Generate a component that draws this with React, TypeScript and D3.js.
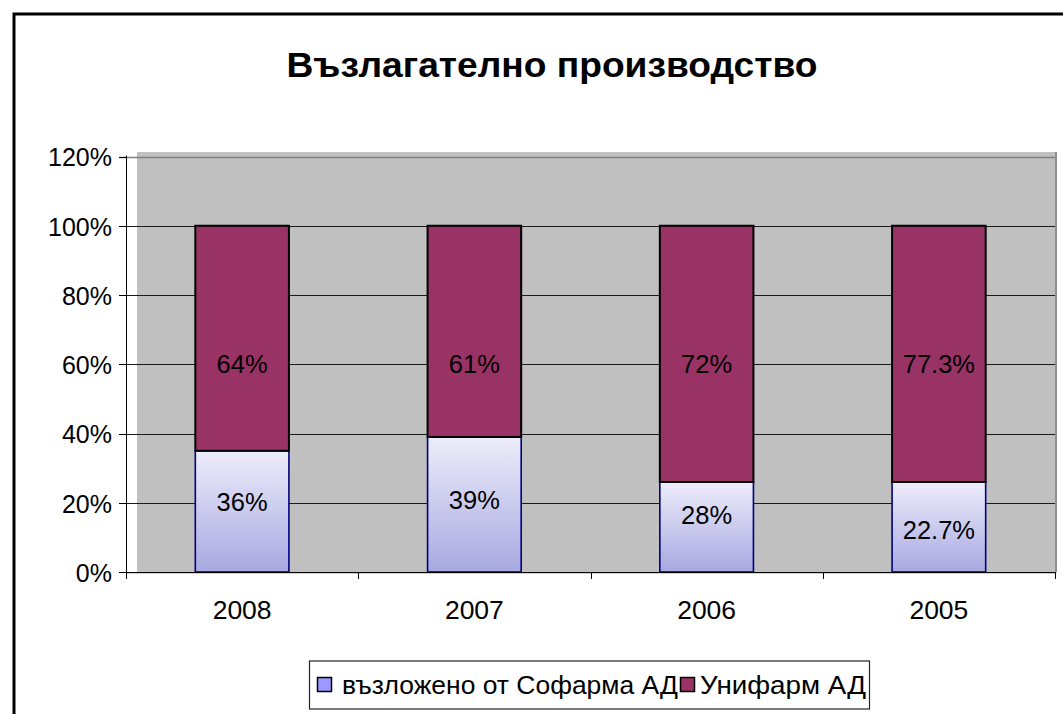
import React from 'react';
import * as d3 from 'd3';

const categories = ['2008', '2007', '2006', '2005'];
const sofarmaValues = [35, 39, 26, 26];
const unifarmValues = [65, 61, 74, 74];
const sofarmaLabels = ['36%', '39%', '28%', '22.7%'];
const unifarmLabels = ['64%', '61%', '72%', '77.3%'];
const sofarmaLabelAt = [20.3, 20.9, 16.5, 12.2];
const unifarmLabelAt = [60, 60, 60, 60];
const yTicks = [0, 20, 40, 60, 80, 100, 120];
const seriesNames = ['възложено от Софарма АД', 'Унифарм АД'];
const chartTitle = 'Възлагателно производство';

const W = 1063;
const H = 714;
const FONT = '"Liberation Sans", Arial, sans-serif';

export default function App() {
  const left = 126;
  const right = 1055;
  const top = 156.5;
  const bottom = 572;
  const x = d3.scaleBand<string>().domain(categories).range([left, right]).padding(0);
  const y = d3.scaleLinear().domain([0, 120]).range([bottom, top]);
  const bw = x.bandwidth() * 0.403;
  const stackData = categories.map((c, i) => ({ cat: c, a: sofarmaValues[i], b: unifarmValues[i] }));
  const stack = d3.stack<any>().keys(['a', 'b'])(stackData as any);
  const cx = (c: string) => (x(c) as number) + x.bandwidth() / 2;
  const tickXs = categories.map((c) => x(c) as number).concat([right]);

  return (
    <svg width={W} height={H} style={{ position: 'absolute', left: 0, top: 0, background: '#fff' }} fontFamily={FONT}>
      <defs>
        <linearGradient id="lowGrad" x1="0" y1="0" x2="0" y2="1">
          <stop offset="0%" stopColor="#EDEDFB" />
          <stop offset="100%" stopColor="#A8A8E2" />
        </linearGradient>
      </defs>
      <rect x={0} y={0} width={W} height={H} fill="#fff" />
      {/* outer border */}
      <rect x={14} y={14} width={1200} height={900} fill="none" stroke="#000" strokeWidth={3} />
      {/* title */}
      <text x={552} y={77} textAnchor="middle" fontSize={35} fontWeight="bold" fill="#000"
        textLength={531} lengthAdjust="spacingAndGlyphs">{chartTitle}</text>
      {/* plot area fill */}
      <rect x={137} y={152} width={right - 137 + 1} height={bottom - 152} fill="#C0C0C0" />
      <line x1={right + 1} x2={right + 1} y1={152} y2={bottom} stroke="#909090" strokeWidth={2} />
      <line x1={left} x2={right + 2} y1={bottom + 1.5} y2={bottom + 1.5} stroke="#d0d0d0" strokeWidth={1} />
      {/* gridlines */}
      {yTicks.filter((t) => t > 0).map((t) => (
        <line key={'g' + t} x1={left - 7} x2={right} y1={Math.round(y(t)) + 0.5} y2={Math.round(y(t)) + 0.5}
          stroke={t === 120 ? '#808080' : '#1a1a1a'} strokeWidth={t === 120 ? 1.5 : 1} />
      ))}
      {/* bars */}
      {stack[0].map((d: any, i: number) => (
        <rect key={'a' + i} x={cx(categories[i]) - bw / 2} y={y(d[1])} width={bw} height={y(d[0]) - y(d[1])}
          fill="url(#lowGrad)" stroke="#000080" strokeWidth={1.6} />
      ))}
      {stack[1].map((d: any, i: number) => (
        <rect key={'b' + i} x={cx(categories[i]) - bw / 2} y={y(d[1])} width={bw} height={y(d[0]) - y(d[1])}
          fill="#993366" stroke="#000" strokeWidth={2} />
      ))}
      {/* data labels */}
      {categories.map((c, i) => (
        <g key={'l' + i} fontSize={25.5} fill="#000" textAnchor="middle">
          <text x={cx(c)} y={y(unifarmLabelAt[i])} dy="0.35em">{unifarmLabels[i]}</text>
          <text x={cx(c)} y={y(sofarmaLabelAt[i])} dy="0.35em">{sofarmaLabels[i]}</text>
        </g>
      ))}
      {/* axes */}
      <line x1={left + 0.5} x2={left + 0.5} y1={top - 1} y2={bottom + 7} stroke="#000" strokeWidth={1} />
      <line x1={left} x2={right + 1} y1={bottom + 0.5} y2={bottom + 0.5} stroke="#000" strokeWidth={1} />
      {yTicks.map((t) => (
        <g key={'yt' + t}>
          <line x1={left - 7} x2={left} y1={Math.round(y(t)) + 0.5} y2={Math.round(y(t)) + 0.5} stroke="#000" strokeWidth={1} />
          <text x={112} y={y(t) + 1} dy="0.35em" textAnchor="end" fontSize={25} fill="#000">{t + '%'}</text>
        </g>
      ))}
      {tickXs.map((tx, i) => (
        <line key={'xt' + i} x1={Math.round(tx) + 0.5} x2={Math.round(tx) + 0.5} y1={bottom} y2={bottom + 7} stroke="#000" strokeWidth={1} />
      ))}
      {categories.map((c) => (
        <text key={'xl' + c} x={cx(c)} y={619} textAnchor="middle" fontSize={26.5} fill="#000">{c}</text>
      ))}
      {/* legend */}
      <rect x={309.5} y={661} width={560} height={48} fill="#fff" stroke="#222" strokeWidth={1.2} />
      <rect x={317.5} y={677.5} width={14} height={14} fill="#9999FF" stroke="#000" strokeWidth={1.5} />
      <text x={342} y={694} fontSize={26.5} fill="#000" textLength={336} lengthAdjust="spacingAndGlyphs">{seriesNames[0]}</text>
      <rect x={680.5} y={677.5} width={14} height={14} fill="#993366" stroke="#000" strokeWidth={1.5} />
      <text x={700} y={694} fontSize={26.5} fill="#000" textLength={166} lengthAdjust="spacingAndGlyphs">{seriesNames[1]}</text>
    </svg>
  );
}
